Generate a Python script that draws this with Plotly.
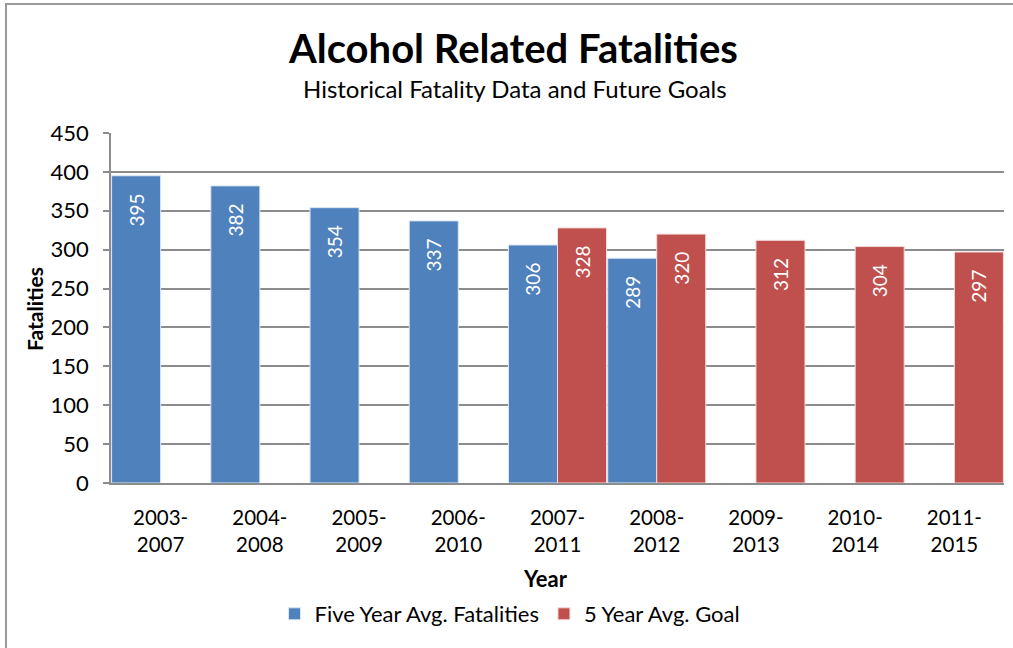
import plotly.graph_objects as go

categories = ["2003-<br>2007", "2004-<br>2008", "2005-<br>2009", "2006-<br>2010", "2007-<br>2011",
              "2008-<br>2012", "2009-<br>2013", "2010-<br>2014", "2011-<br>2015"]
fatalities = [395, 382, 354, 337, 306, 289, None, None, None]
goal = [None, None, None, None, 328, 320, 312, 304, 297]
y_ticks = [0, 50, 100, 150, 200, 250, 300, 350, 400, 450]

FONT = "Lato"
W, H = 1013, 648
L, R, T, B = 111, 9, 133, 165
pw, ph = W - L - R, H - T - B
PAD = "\u00a0\u00a0\u00a0"


def px(x):
    return (x - L) / pw


def py(y):
    return (H - B - y) / ph


def lbl(v):
    return [("" if x is None else str(x) + PAD) for x in v]


fig = go.Figure()
fig.add_trace(go.Bar(
    x=categories, y=fatalities, name="Five Year Avg. Fatalities",
    marker=dict(color="#4F81BD", line=dict(color="#DCE6F2", width=1)),
    text=lbl(fatalities), textposition="inside", insidetextanchor="end",
    textangle=-90, constraintext="none",
    textfont=dict(color="white", size=19, family=FONT),
))
fig.add_trace(go.Bar(
    x=categories, y=goal, name="5 Year Avg. Goal",
    marker=dict(color="#C0504D", line=dict(color="#F2DCDB", width=1)),
    text=lbl(goal), textposition="inside", insidetextanchor="end",
    textangle=-90, constraintext="none",
    textfont=dict(color="white", size=19, family=FONT),
))

fig.update_layout(
    width=W, height=H,
    margin=dict(l=L, r=R, t=T, b=B, autoexpand=False),
    paper_bgcolor="white", plot_bgcolor="white",
    barmode="group", bargap=0.012, bargroupgap=0,
    font=dict(family=FONT, color="black", size=18),
    showlegend=True,
    legend=dict(orientation="h", x=px(510), y=py(614), xanchor="center", yanchor="middle",
                font=dict(size=22, family=FONT), itemwidth=30, traceorder="normal"),
    uniformtext=dict(mode=False),
)
fig.update_xaxes(
    showline=True, linecolor="#8c8c8c", linewidth=1.5, ticks="", showgrid=False,
    tickfont=dict(size=20.5, family=FONT), ticklabelstandoff=16,
)
fig.update_yaxes(
    range=[0, 450], tickvals=y_ticks, showline=True, linecolor="#8c8c8c", linewidth=1.5,
    ticks="outside", ticklen=6, tickcolor="#8c8c8c", tickwidth=1.5,
    showgrid=True, gridcolor="#8c8c8c", gridwidth=1.5, zeroline=False,
    tickfont=dict(size=22, family=FONT), ticklabelstandoff=10,
)

fig.add_annotation(text="<b>Alcohol Related Fatalities</b>", xref="paper", yref="paper",
                   x=px(513), y=py(48), showarrow=False, font=dict(size=40, family=FONT),
                   xanchor="center", yanchor="middle")
fig.add_annotation(text="Historical Fatality Data and Future Goals", xref="paper", yref="paper",
                   x=px(515), y=py(88), showarrow=False, font=dict(size=24, family=FONT),
                   xanchor="center", yanchor="middle")
fig.add_annotation(text="<b>Fatalities</b>", xref="paper", yref="paper",
                   x=px(34), y=py(309), showarrow=False, textangle=-90,
                   font=dict(size=21, family=FONT), xanchor="center", yanchor="middle")
fig.add_annotation(text="<b>Year</b>", xref="paper", yref="paper",
                   x=px(545), y=py(578), showarrow=False,
                   font=dict(size=22, family=FONT), xanchor="center", yanchor="middle")

fig.add_shape(type="rect", xref="paper", yref="paper",
              x0=px(6), x1=px(1030), y0=py(670), y1=py(4),
              line=dict(color="#9a9a9a", width=2), fillcolor="rgba(0,0,0,0)", layer="below")

fig.write_html("out.html", config={"displayModeBar": False},
               post_script="document.body.style.margin='0';document.body.style.overflow='hidden';")
